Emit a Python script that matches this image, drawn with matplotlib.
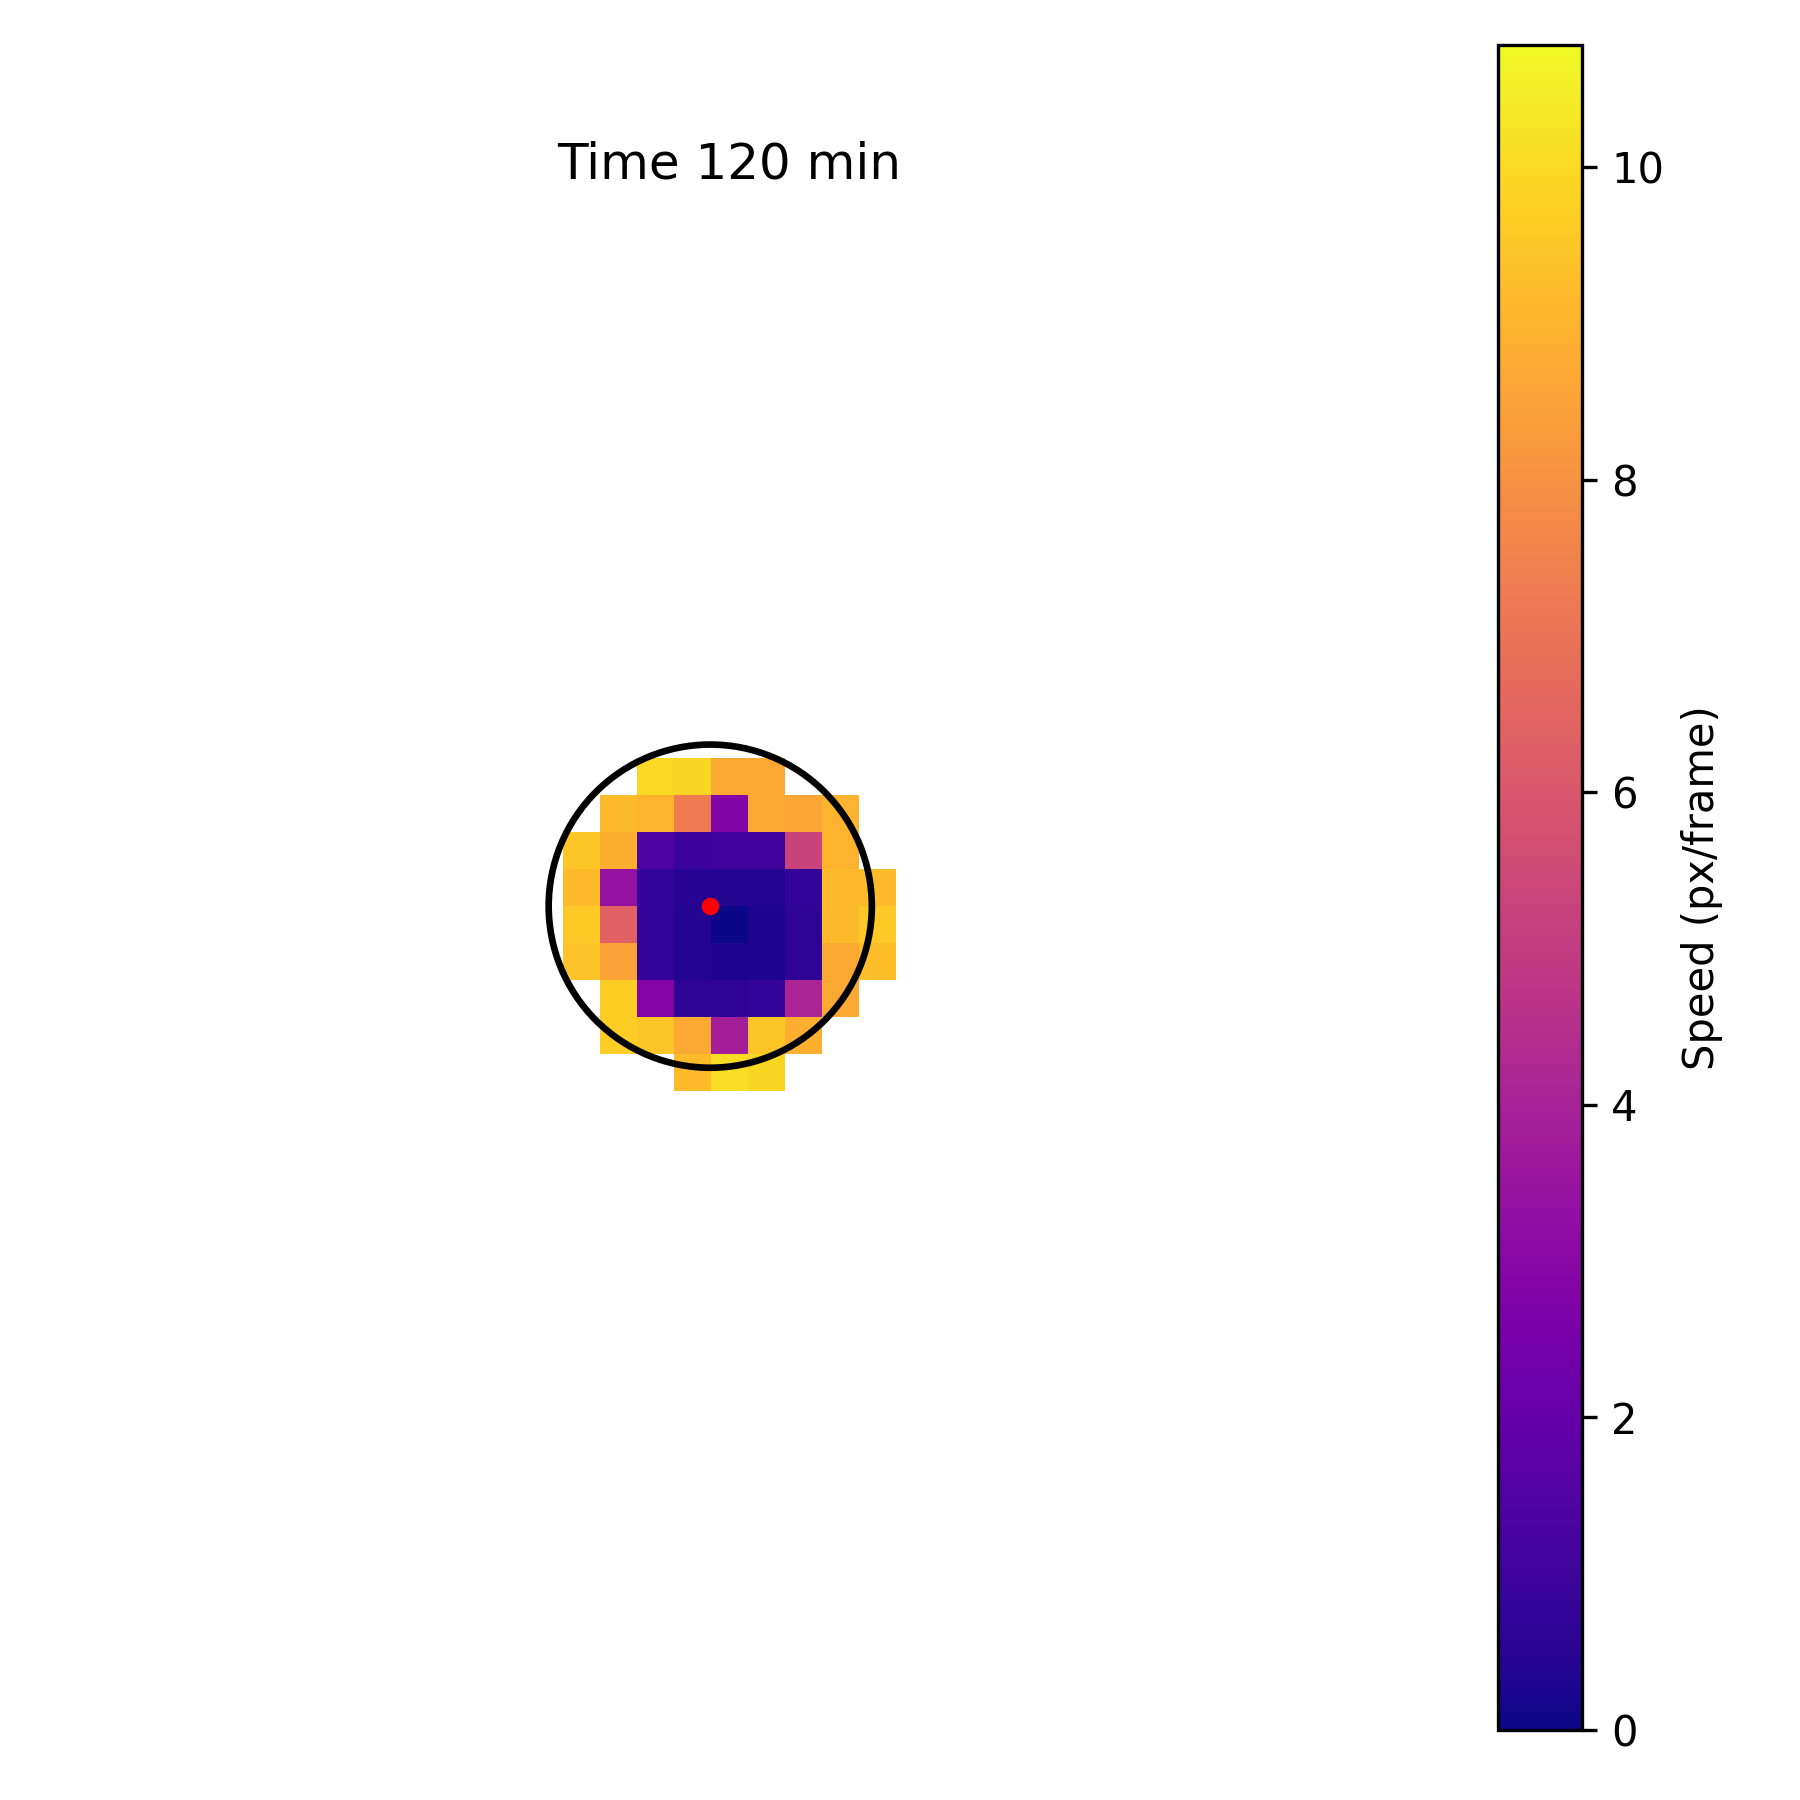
import numpy as np
import matplotlib
matplotlib.use('Agg')
import matplotlib.pyplot as plt

nan = np.nan

# speed per cell (px/frame)
row0 = [nan, nan, 10.0, 9.9, 8.7, 8.7, nan, nan, nan]
row1 = [nan, 9.2, 9.0, 7.3, 2.8, 8.7, 8.6, 9.0, nan]
row2 = [9.5, 8.9, 1.4, 0.9, 1.0, 1.0, 5.3, 9.0, nan]
row3 = [9.2, 3.4, 0.8, 0.5, 0.4, 0.4, 0.8, 9.2, 9.2]
row4 = [9.6, 6.4, 0.8, 0.4, 0.0, 0.3, 0.6, 9.2, 9.6]
row5 = [9.4, 8.5, 0.8, 0.4, 0.3, 0.3, 0.6, 8.7, 9.3]
row6 = [nan, 9.7, 2.9, 0.6, 0.6, 0.8, 4.1, 8.7, nan]
row7 = [nan, 9.7, 9.5, 8.7, 3.9, 9.5, 8.9, nan, nan]
row8 = [nan, nan, nan, 9.2, 10.1, 9.9, nan, nan, nan]
speed = np.array([row0, row1, row2, row3, row4, row5, row6, row7, row8])

grid_size = 37
first_col = 14
first_row = 15
center_x = 18.0
center_y = 19.0
radius = 4.38
vmax = 10.78

fig = plt.figure(figsize=(6, 6), dpi=300)
ax = fig.add_axes([46.2 / 1800, 229.8 / 1800, 1365 / 1800, 1365 / 1800])

im = ax.imshow(speed, cmap='plasma', vmin=0, vmax=vmax, interpolation='nearest',
               extent=[first_col, first_col + 9, first_row + 9, first_row])
ax.add_patch(plt.Circle((center_x, center_y), radius, fill=False, color='black', lw=1.6))
ax.plot(center_x, center_y, 'o', color='red', ms=4.2, mew=0)
ax.set_xlim(0, grid_size)
ax.set_ylim(grid_size, 0)
ax.set_aspect('equal')
ax.set_title('Time 120 min', fontsize=12, pad=6.4)
ax.axis('off')

cax = fig.add_axes([1498 / 1800, 70 / 1800, 84 / 1800, 1685 / 1800])
cbar = fig.colorbar(im, cax=cax)
cbar.set_label('Speed (px/frame)', fontsize=10)
cbar.set_ticks([0, 2, 4, 6, 8, 10])

fig.savefig('out.png', dpi=300)
